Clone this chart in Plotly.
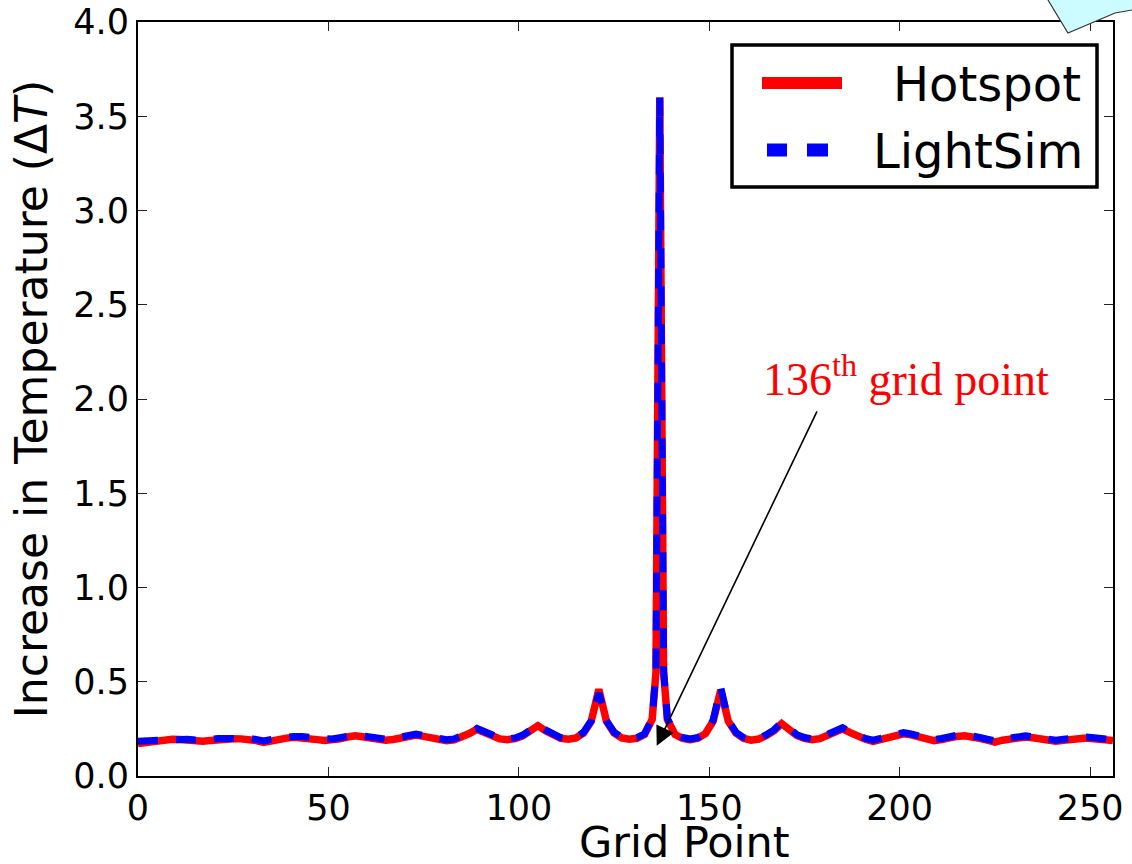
import plotly.graph_objects as go

# ---------------- data ----------------
grid_point = [
    0, 1, 3, 5, 7, 9, 11, 13, 15, 17,
    19, 21, 23, 25, 27, 29, 31, 33, 35, 37,
    39, 41, 43, 45, 47, 49, 51, 53, 55, 57,
    59, 61, 63, 65, 67, 69, 71, 73, 75, 77,
    79, 81, 83, 85, 87, 89, 91, 93, 95, 97,
    99, 101, 103, 105, 107, 109, 111, 113, 115, 117,
    119, 121, 123, 125, 127, 129, 131, 133, 135, 136,
    137, 138, 139, 141, 143, 145, 147, 149, 151, 153,
    155, 157, 159, 161, 163, 165, 167, 169, 171, 173,
    175, 177, 179, 181, 183, 185, 187, 189, 191, 193,
    195, 197, 199, 201, 203, 205, 207, 209, 211, 213,
    215, 217, 219, 221, 223, 225, 227, 229, 231, 233,
    235, 237, 239, 241, 243, 245, 247, 249, 251, 253,
    255, 256,
]

hotspot = [
    0.172, 0.175, 0.182, 0.188, 0.192, 0.195, 0.194, 0.190, 0.186, 0.184,
    0.188, 0.194, 0.197, 0.198, 0.197, 0.196, 0.188, 0.178, 0.188, 0.196,
    0.201, 0.205, 0.204, 0.200, 0.193, 0.188, 0.190, 0.198, 0.207, 0.213,
    0.208, 0.200, 0.193, 0.190, 0.194, 0.201, 0.210, 0.217, 0.210, 0.200,
    0.191, 0.187, 0.192, 0.205, 0.225, 0.248, 0.228, 0.208, 0.197, 0.193,
    0.198, 0.213, 0.235, 0.267, 0.240, 0.215, 0.200, 0.195, 0.202, 0.228,
    0.290, 0.460, 0.290, 0.228, 0.202, 0.195, 0.200, 0.220, 0.300, 0.550,
    3.600, 0.550, 0.300, 0.220, 0.200, 0.193, 0.200, 0.225, 0.290, 0.455,
    0.290, 0.228, 0.200, 0.190, 0.196, 0.215, 0.240, 0.278, 0.243, 0.215,
    0.200, 0.192, 0.198, 0.213, 0.230, 0.250, 0.230, 0.210, 0.195, 0.184,
    0.195, 0.208, 0.218, 0.224, 0.218, 0.207, 0.195, 0.188, 0.194, 0.204,
    0.210, 0.213, 0.210, 0.200, 0.190, 0.180, 0.190, 0.199, 0.205, 0.207,
    0.203, 0.196, 0.190, 0.184, 0.190, 0.196, 0.200, 0.202, 0.198, 0.193,
    0.189, 0.188,
]

lightsim = [
    0.185, 0.186, 0.190, 0.195, 0.198, 0.200, 0.199, 0.195, 0.191, 0.190,
    0.194, 0.199, 0.201, 0.202, 0.201, 0.200, 0.194, 0.186, 0.194, 0.201,
    0.206, 0.210, 0.209, 0.205, 0.199, 0.194, 0.196, 0.203, 0.212, 0.218,
    0.213, 0.205, 0.198, 0.195, 0.199, 0.206, 0.215, 0.222, 0.215, 0.205,
    0.196, 0.192, 0.197, 0.210, 0.230, 0.252, 0.232, 0.212, 0.201, 0.197,
    0.202, 0.217, 0.239, 0.270, 0.244, 0.219, 0.204, 0.199, 0.206, 0.232,
    0.292, 0.440, 0.293, 0.232, 0.206, 0.199, 0.204, 0.224, 0.305, 0.560,
    3.600, 0.560, 0.305, 0.224, 0.204, 0.197, 0.204, 0.229, 0.295, 0.470,
    0.295, 0.232, 0.204, 0.194, 0.200, 0.219, 0.245, 0.285, 0.248, 0.219,
    0.204, 0.196, 0.202, 0.217, 0.234, 0.256, 0.235, 0.214, 0.199, 0.190,
    0.200, 0.213, 0.224, 0.230, 0.223, 0.211, 0.199, 0.193, 0.199, 0.209,
    0.216, 0.219, 0.215, 0.205, 0.195, 0.187, 0.196, 0.204, 0.210, 0.213,
    0.208, 0.201, 0.195, 0.190, 0.195, 0.201, 0.205, 0.207, 0.203, 0.198,
    0.194, 0.193,
]

series_names = ["Hotspot", "LightSim"]
x_ticks = [0, 50, 100, 150, 200, 250]
y_ticks = [0.0, 0.5, 1.0, 1.5, 2.0, 2.5, 3.0, 3.5, 4.0]
x_title = "Grid Point"
y_title = "Increase in Temperature (Δ<i>T</i>)"
peak_label = "136<sup>th</sup> grid point"
peak_target = (136.2, 0.16)

# ---------------- layout geometry ----------------
W, H = 1132, 864
ML, MR, MT, MB = 138, 19, 22, 88
PW, PH = W - ML - MR, H - MT - MB


def px(xp):
    return (xp - ML) / PW


def py(yp):
    return (H - MB - yp) / PH


FONT = "DejaVu Sans"

fig = go.Figure()
fig.add_trace(go.Scatter(
    x=grid_point, y=hotspot, mode="lines", name=series_names[0],
    line=dict(color="#ff0000", width=7.5), showlegend=False,
))
fig.add_trace(go.Scatter(
    x=grid_point, y=lightsim, mode="lines", name=series_names[1],
    line=dict(color="#0000ff", width=7, dash="20px,18px"), showlegend=False,
))

axis_common = dict(
    showline=True, linecolor="black", linewidth=2, mirror="allticks",
    ticks="inside", ticklen=9, tickwidth=1.3, tickcolor="#222",
    showgrid=False, zeroline=False,
    tickfont=dict(family=FONT, size=35, color="black"),
)

fig.update_xaxes(
    range=[0, 256], tickvals=x_ticks, ticktext=[str(v) for v in x_ticks],
    **axis_common,
)
fig.update_yaxes(
    range=[0, 4.0], tickvals=y_ticks, ticktext=[f"{v:.1f}" for v in y_ticks],
    title=dict(text=y_title, font=dict(family=FONT, size=44, color="black"), standoff=12),
    **axis_common,
)

shapes = []
# callout fragment top right
callout = [(1048, 0), (1068, 33), (1115, 13), (1132, 10), (1132, 0)]
path = "M " + " L ".join(f"{px(a):.4f},{py(b):.4f}" for a, b in callout) + " Z"
shapes.append(dict(type="path", xref="paper", yref="paper", path=path,
                   fillcolor="#ccfcff", line=dict(width=0), layer="above"))
outline = "M " + " L ".join(f"{px(a):.4f},{py(b):.4f}" for a, b in callout[:4])
shapes.append(dict(type="path", xref="paper", yref="paper", path=outline,
                   line=dict(color="#333", width=1.2), layer="above"))

# legend box
shapes.append(dict(type="rect", xref="paper", yref="paper",
                   x0=px(732), x1=px(1097), y0=py(187), y1=py(45),
                   fillcolor="white", line=dict(color="black", width=3.5), layer="above"))
shapes.append(dict(type="line", xref="paper", yref="paper",
                   x0=px(762), x1=px(842), y0=py(83), y1=py(83),
                   line=dict(color="#ff0000", width=12), layer="above"))
for a, b in [(767, 787), (807, 828)]:
    shapes.append(dict(type="line", xref="paper", yref="paper",
                       x0=px(a), x1=px(b), y0=py(150), y1=py(150),
                       line=dict(color="#0000ff", width=13), layer="above"))

annotations = [
    dict(xref="paper", yref="paper", x=px(1083), y=py(84), xanchor="right", yanchor="middle",
         text=series_names[0], showarrow=False, font=dict(family=FONT, size=48, color="black")),
    dict(xref="paper", yref="paper", x=px(1085), y=py(151), xanchor="right", yanchor="middle",
         text=series_names[1], showarrow=False, font=dict(family=FONT, size=48, color="black")),
    dict(xref="paper", yref="paper", x=px(684), y=py(842), xanchor="center", yanchor="middle",
         text=x_title, showarrow=False, font=dict(family=FONT, size=43, color="black")),
    dict(xref="paper", yref="paper", x=px(906), y=py(376), xanchor="center", yanchor="middle",
         text=peak_label, showarrow=False,
         font=dict(family="Liberation Serif", size=46, color="#ff0000")),
    dict(x=peak_target[0], y=peak_target[1], xref="x", yref="y", text="",
         showarrow=True, ax=161, ay=-336, arrowhead=2, arrowsize=2.4, arrowwidth=1.6,
         arrowcolor="black"),
]

fig.update_layout(
    width=W, height=H,
    margin=dict(l=ML, r=MR, t=MT, b=MB, autoexpand=False),
    plot_bgcolor="white", paper_bgcolor="white",
    shapes=shapes, annotations=annotations,
    showlegend=False,
)

fig.write_html("out.html")
